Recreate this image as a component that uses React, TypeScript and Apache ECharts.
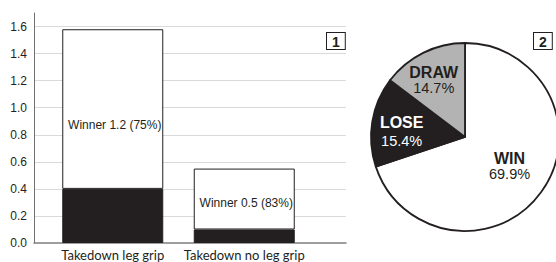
import React, { useEffect, useRef } from 'react';
import * as echarts from 'echarts';

const categories = ['Takedown leg grip', 'Takedown no leg grip'];
const loserValues = [0.4, 0.1];
const winnerValues = [1.18, 0.45];
const winnerLabels = ['Winner 1.2 (75%)', 'Winner 0.5 (83%)'];
const yMin = 0;
const yMax = 1.7;
const yInterval = 0.2;

const outcomes = ['WIN', 'LOSE', 'DRAW'];
const outcomeShares = [69.9, 15.4, 14.7];

const panelTags = ['1', '2'];

const INK = '#231f20';
const FONT = "'Liberation Sans', Arial, sans-serif";

export default function App() {
  const ref = useRef<HTMLDivElement>(null);
  useEffect(() => {
    const chart = echarts.init(ref.current!, null, { renderer: 'svg' });
    const labelOffsets = [[2, 16], [2, 4]];
    const pieLabelShift = [[4, 0], [-14, 3], [-9, -12]];
    const pieLineHeights = [[16, 15], [19, 19], [16, 14.5]];
    const pieTextColors = [INK, '#ffffff', INK];
    const pieFill = ['#ffffff', INK, '#b3b3b3'];
    const option: any = {
      animation: false,
      backgroundColor: '#ffffff',
      textStyle: { fontFamily: FONT },
      grid: [
        { left: 34, top: 13, width: 312, height: 230 },
        { left: 47, top: 13, width: 263, height: 230 },
      ],
      xAxis: [
        {
          gridIndex: 0,
          type: 'value',
          min: 0,
          max: 1,
          axisLine: { show: true, onZero: false, lineStyle: { color: '#7f7f7f', width: 1.5 } },
          axisTick: { show: false },
          axisLabel: { show: false },
          splitLine: { show: false },
        },
        {
          gridIndex: 1,
          type: 'category',
          data: categories,
          axisLine: { show: false },
          axisTick: { show: false },
          axisLabel: { color: INK, fontFamily: 'Lato', fontSize: 13, margin: 5, interval: 0 },
        },
      ],
      yAxis: [
        {
          gridIndex: 0,
          type: 'value',
          min: yMin,
          max: yMax,
          interval: yInterval,
          axisLine: { show: true, onZero: false, lineStyle: { color: '#6f6f6f', width: 1 } },
          axisTick: { show: false },
          axisLabel: {
            color: INK,
            fontSize: 12,
            fontFamily: FONT,
            margin: 7,
            showMaxLabel: false,
            formatter: (v: number) => v.toFixed(1),
          },
          splitLine: { show: true, showMaxLine: false, showMinLine: false, lineStyle: { color: '#dadada', width: 1 } },
        },
        { gridIndex: 1, type: 'value', min: yMin, max: yMax, show: false },
      ],
      series: [
        {
          type: 'bar',
          xAxisIndex: 1,
          yAxisIndex: 1,
          stack: 'total',
          barWidth: 101,
          data: loserValues,
          itemStyle: { color: INK, borderColor: INK, borderWidth: 1 },
        },
        {
          type: 'bar',
          xAxisIndex: 1,
          yAxisIndex: 1,
          stack: 'total',
          barWidth: 101,
          data: winnerValues.map((v, i) => ({
            value: v,
            label: { offset: labelOffsets[i] },
          })),
          itemStyle: { color: '#ffffff', borderColor: INK, borderWidth: 1 },
          label: {
            show: true,
            position: 'inside',
            color: INK,
            fontSize: 12,
            fontFamily: FONT,
            formatter: (p: any) => winnerLabels[p.dataIndex],
          },
        },
        {
          type: 'pie',
          center: [465, 137],
          radius: 94,
          startAngle: 90,
          clockwise: true,
          avoidLabelOverlap: false,
          data: outcomes.map((name, i) => ({
            name,
            value: outcomeShares[i],
            itemStyle: { color: pieFill[i] },
            label: {
              rich: {
                n: {
                  fontWeight: 'bold',
                  fontSize: 16,
                  fontFamily: FONT,
                  color: pieTextColors[i],
                  lineHeight: pieLineHeights[i][0],
                },
                p: {
                  fontSize: 14.5,
                  fontFamily: FONT,
                  color: pieTextColors[i],
                  lineHeight: pieLineHeights[i][1],
                },
              },
            },
          })),
          itemStyle: { borderColor: INK, borderWidth: 1.8 },
          label: {
            show: true,
            position: 'inside',
            formatter: (p: any) => `{n|${p.name}}\n{p|${p.value}%}`,
          },
          labelLine: { show: false },
          labelLayout: (p: any) => ({ dx: pieLabelShift[p.dataIndex][0], dy: pieLabelShift[p.dataIndex][1] }),
          emphasis: { disabled: true },
        },
      ],
      graphic: [
        {
          type: 'text',
          x: 327,
          y: 33,
          style: {
            text: panelTags[0],
            font: `bold 14px ${FONT}`,
            fill: INK,
            borderColor: INK,
            borderWidth: 1,
            backgroundColor: '#ffffff',
            padding: [1, 5, 0, 5],
            lineHeight: 15,
          },
        },
        {
          type: 'text',
          x: 534,
          y: 33,
          style: {
            text: panelTags[1],
            font: `bold 14px ${FONT}`,
            fill: INK,
            borderColor: INK,
            borderWidth: 1,
            backgroundColor: '#ffffff',
            padding: [1, 5, 0, 5],
            lineHeight: 15,
          },
        },
      ],
    };
    chart.setOption(option);
    return () => chart.dispose();
  }, []);
  return (
    <div
      ref={ref}
      style={{ position: 'fixed', left: 0, top: 0, width: 556, height: 262, background: '#fff' }}
    />
  );
}
